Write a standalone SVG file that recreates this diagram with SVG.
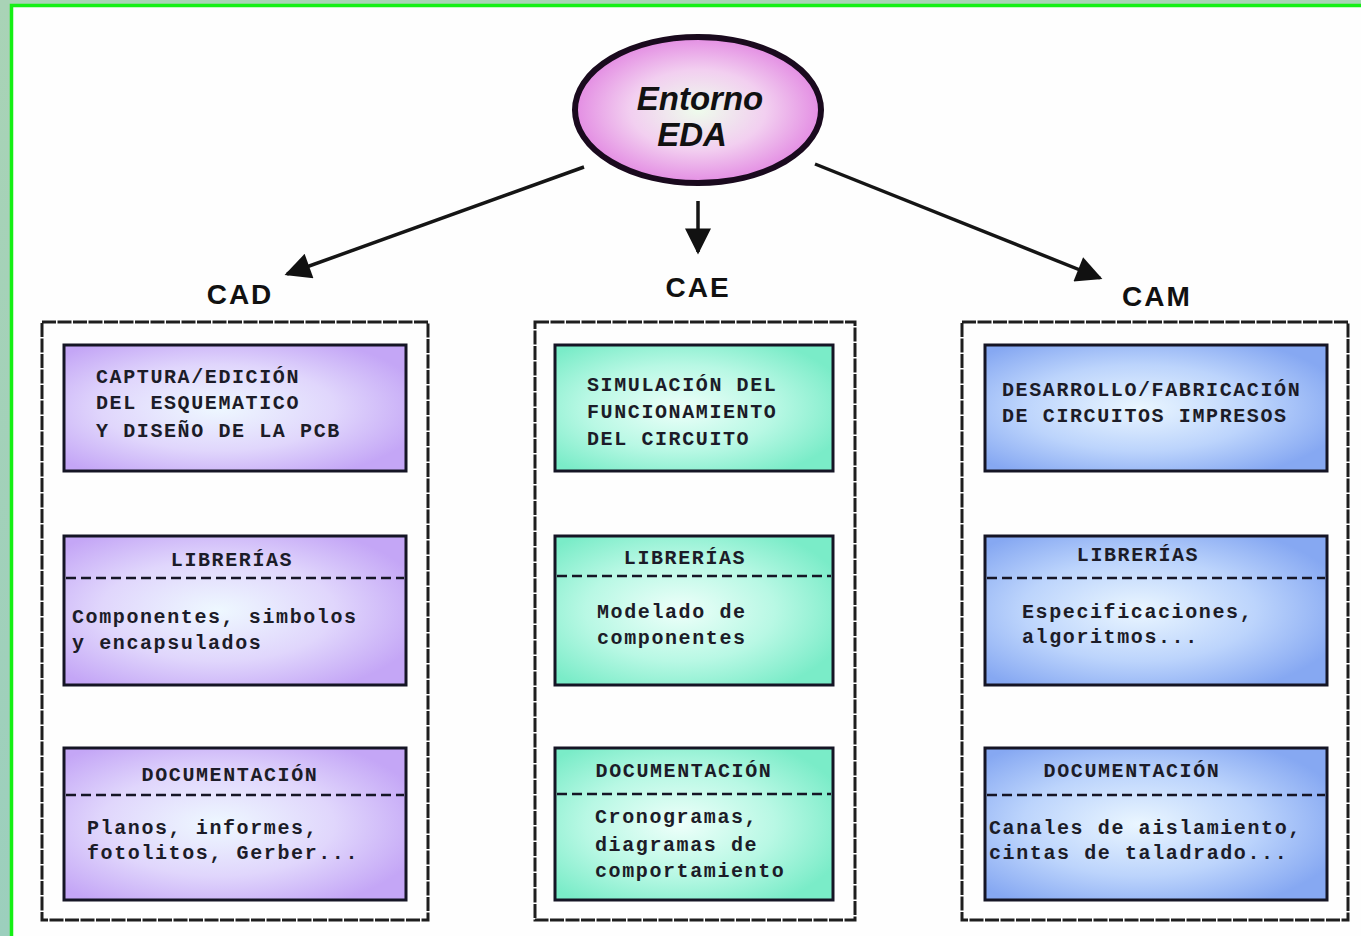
<svg xmlns="http://www.w3.org/2000/svg" width="1361" height="936" viewBox="0 0 1361 936">
  <defs>
    <radialGradient id="gEllipse" cx="0.5" cy="0.5" r="0.55">
      <stop offset="0" stop-color="#eefcec"/>
      <stop offset="0.5" stop-color="#f2cff0"/>
      <stop offset="1" stop-color="#e07ee0"/>
    </radialGradient>
    <radialGradient id="gPurple" cx="0.45" cy="0.5" r="0.62">
      <stop offset="0" stop-color="#eef8ff"/>
      <stop offset="0.55" stop-color="#e0d6fc"/>
      <stop offset="1" stop-color="#c4a6f6"/>
    </radialGradient>
    <radialGradient id="gGreen" cx="0.45" cy="0.5" r="0.62">
      <stop offset="0" stop-color="#eefffa"/>
      <stop offset="0.55" stop-color="#b8f8e4"/>
      <stop offset="1" stop-color="#7aecc8"/>
    </radialGradient>
    <radialGradient id="gBlue" cx="0.45" cy="0.5" r="0.62">
      <stop offset="0" stop-color="#eaf6ff"/>
      <stop offset="0.55" stop-color="#bcd4fc"/>
      <stop offset="1" stop-color="#86a8f2"/>
    </radialGradient>
    <linearGradient id="gPage" x1="0" y1="0" x2="0" y2="1">
      <stop offset="0" stop-color="#a9d3b6"/>
      <stop offset="1" stop-color="#9ccfbd"/>
    </linearGradient>
    <marker id="head" viewBox="0 0 10 10" refX="9" refY="5" markerWidth="30" markerHeight="26" markerUnits="userSpaceOnUse" orient="auto">
      <path d="M0,0 L10,5 L0,10 z" fill="#111"/>
    </marker>
  </defs>
  <style>
    .frame { fill: none; stroke: #1e1e1e; stroke-width: 3; stroke-dasharray: 14 1.5; }
    .box { stroke: #151525; stroke-width: 3; }
    .sep { stroke: #151525; stroke-width: 2.5; stroke-dasharray: 10 5; }
    .t { font-family: "Liberation Mono", "DejaVu Sans Mono", monospace; font-weight: bold; font-size: 20px; letter-spacing: 1.6px; fill: #1c1c28; }
    .c { text-anchor: middle; }
    .head { font-family: "Liberation Sans", Arial, sans-serif; font-weight: bold; font-size: 28px; letter-spacing: 2px; fill: #111; text-anchor: middle; }
    .conn { stroke: #151515; stroke-width: 3.5; fill: none; }
  </style>

  <!-- page background and green border -->
  <rect x="0" y="0" width="1361" height="936" fill="url(#gPage)"/>
  <rect x="10" y="4" width="1351" height="932" fill="#fefefe"/>
  <path d="M11.5,936 V5.5 H1361" fill="none" stroke="#14f014" stroke-width="3.5"/>

  <!-- root node -->
  <g id="entorno-eda">
    <ellipse cx="698" cy="110" rx="123" ry="73" fill="url(#gEllipse)" stroke="#1a0a1e" stroke-width="6"/>
    <text x="700" y="110" font-family="Liberation Sans, Arial, sans-serif" font-style="italic" font-weight="bold" font-size="33" fill="#111" text-anchor="middle">Entorno</text>
    <text x="692" y="146" font-family="Liberation Sans, Arial, sans-serif" font-style="italic" font-weight="bold" font-size="33" fill="#111" text-anchor="middle">EDA</text>
  </g>

  <!-- connectors -->
  <g id="connectors">
    <line class="conn" x1="584" y1="167" x2="287" y2="274" marker-end="url(#head)"/>
    <line class="conn" x1="698" y1="201" x2="698" y2="252" marker-end="url(#head)"/>
    <line class="conn" x1="815" y1="164" x2="1100" y2="278" marker-end="url(#head)"/>
  </g>

  <!-- CAD column -->
  <g id="cad">
    <text class="head" x="240" y="304">CAD</text>
    <rect class="frame" x="42" y="322" width="386" height="598"/>
    <g id="cad-captura">
      <rect class="box" x="64" y="345" width="342" height="126" fill="url(#gPurple)"/>
      <text class="t" x="96" y="383">CAPTURA/EDICIÓN</text>
      <text class="t" x="96" y="409">DEL ESQUEMATICO</text>
      <text class="t" x="96" y="437">Y DISEÑO DE LA PCB</text>
    </g>
    <g id="cad-librerias">
      <rect class="box" x="64" y="536" width="342" height="149" fill="url(#gPurple)"/>
      <text class="t c" x="232" y="566">LIBRERÍAS</text>
      <line class="sep" x1="66" y1="578" x2="404" y2="578"/>
      <text class="t" x="72" y="623">Componentes, simbolos</text>
      <text class="t" x="72" y="649">y encapsulados</text>
    </g>
    <g id="cad-documentacion">
      <rect class="box" x="64" y="748" width="342" height="152" fill="url(#gPurple)"/>
      <text class="t c" x="230" y="781">DOCUMENTACIÓN</text>
      <line class="sep" x1="66" y1="795" x2="404" y2="795"/>
      <text class="t" x="87" y="834">Planos, informes,</text>
      <text class="t" x="87" y="859">fotolitos, Gerber...</text>
    </g>
  </g>

  <!-- CAE column -->
  <g id="cae">
    <text class="head" x="698" y="297">CAE</text>
    <rect class="frame" x="535" y="322" width="320" height="598"/>
    <g id="cae-simulacion">
      <rect class="box" x="555" y="345" width="278" height="126" fill="url(#gGreen)"/>
      <text class="t" x="587" y="391">SIMULACIÓN DEL</text>
      <text class="t" x="587" y="418">FUNCIONAMIENTO</text>
      <text class="t" x="587" y="445">DEL CIRCUITO</text>
    </g>
    <g id="cae-librerias">
      <rect class="box" x="555" y="536" width="278" height="149" fill="url(#gGreen)"/>
      <text class="t c" x="685" y="564">LIBRERÍAS</text>
      <line class="sep" x1="557" y1="576" x2="831" y2="576"/>
      <text class="t" x="597" y="618">Modelado de</text>
      <text class="t" x="597" y="644">componentes</text>
    </g>
    <g id="cae-documentacion">
      <rect class="box" x="555" y="748" width="278" height="152" fill="url(#gGreen)"/>
      <text class="t c" x="684" y="777">DOCUMENTACIÓN</text>
      <line class="sep" x1="557" y1="794" x2="831" y2="794"/>
      <text class="t" x="595" y="823">Cronogramas,</text>
      <text class="t" x="595" y="851">diagramas de</text>
      <text class="t" x="595" y="877">comportamiento</text>
    </g>
  </g>

  <!-- CAM column -->
  <g id="cam">
    <text class="head" x="1157" y="306">CAM</text>
    <rect class="frame" x="962" y="322" width="386" height="598"/>
    <g id="cam-desarrollo">
      <rect class="box" x="985" y="345" width="342" height="126" fill="url(#gBlue)"/>
      <text class="t" x="1002" y="396">DESARROLLO/FABRICACIÓN</text>
      <text class="t" x="1002" y="422">DE CIRCUITOS IMPRESOS</text>
    </g>
    <g id="cam-librerias">
      <rect class="box" x="985" y="536" width="342" height="149" fill="url(#gBlue)"/>
      <text class="t c" x="1138" y="561">LIBRERÍAS</text>
      <line class="sep" x1="987" y1="578" x2="1325" y2="578"/>
      <text class="t" x="1022" y="618">Especificaciones,</text>
      <text class="t" x="1022" y="643">algoritmos...</text>
    </g>
    <g id="cam-documentacion">
      <rect class="box" x="985" y="748" width="342" height="152" fill="url(#gBlue)"/>
      <text class="t c" x="1132" y="777">DOCUMENTACIÓN</text>
      <line class="sep" x1="987" y1="795" x2="1325" y2="795"/>
      <text class="t" x="989" y="834">Canales de aislamiento,</text>
      <text class="t" x="989" y="859">cintas de taladrado...</text>
    </g>
  </g>
</svg>
